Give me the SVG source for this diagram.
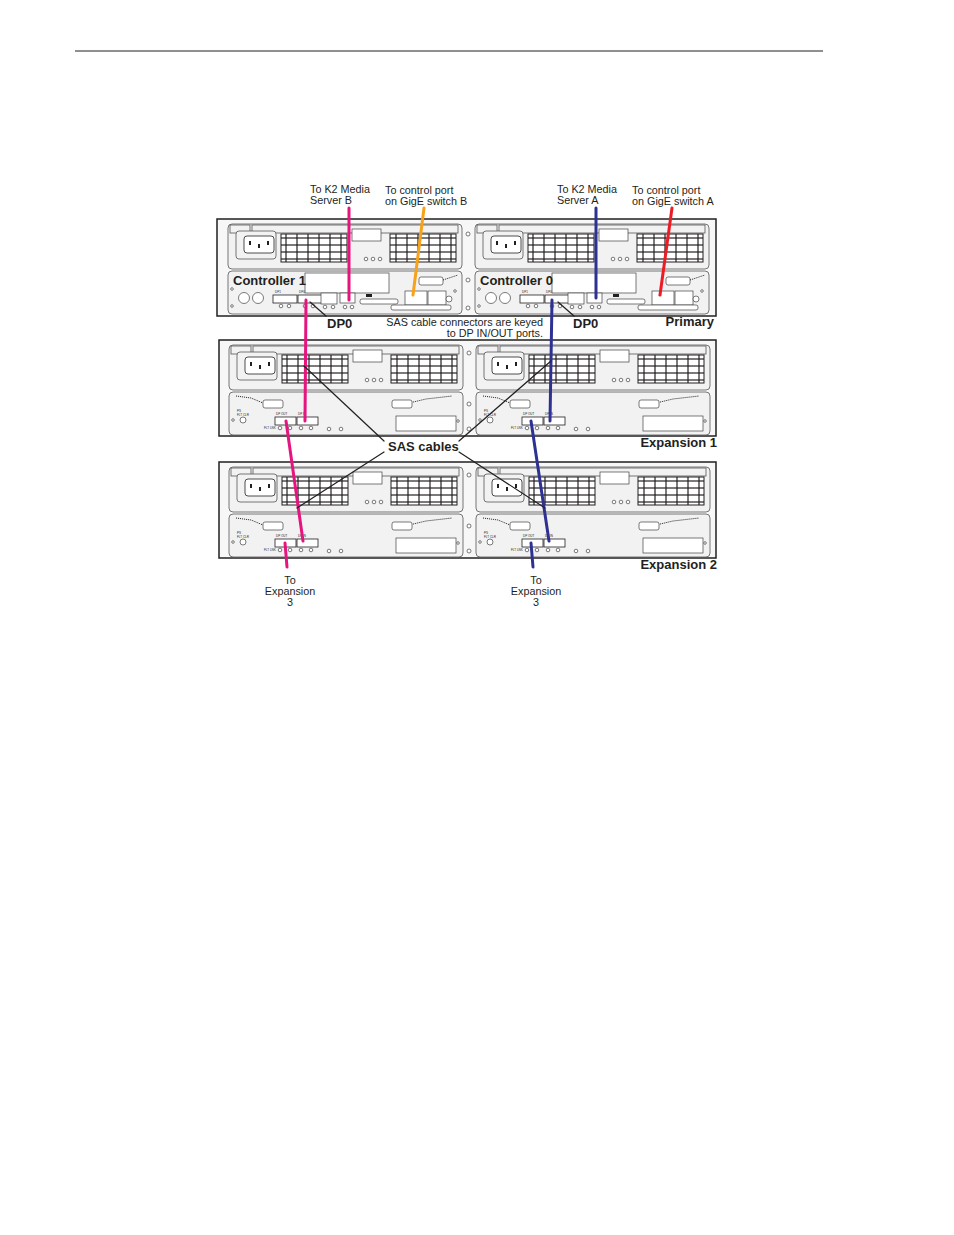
<svg xmlns="http://www.w3.org/2000/svg" xmlns:xlink="http://www.w3.org/1999/xlink" width="954" height="1235" viewBox="0 0 954 1235">
<style>
.t{font-family:"Liberation Sans",Arial,sans-serif;font-size:10.8px;fill:#231f20}
.b{font-family:"Liberation Sans",Arial,sans-serif;font-size:13px;font-weight:bold;fill:#231f20}
.tiny{font-family:"Liberation Sans",Arial,sans-serif;font-size:3px;fill:#231f20}
.m{fill:#f2f2f2;stroke:#555;stroke-width:0.8}
.k{fill:none;stroke:#231f20;stroke-width:1}
.g{fill:#fff;stroke:#231f20;stroke-width:0.8}
.c{fill:#fff;stroke:#444;stroke-width:0.7}
.ld{stroke:#231f20;stroke-width:1.2;fill:none}
</style>
<defs>
<pattern id="grid" width="11" height="7" patternUnits="userSpaceOnUse"><rect width="11" height="7" fill="#fff" stroke="#231f20" stroke-width="1.2"/></pattern>
<g id="psu">
<rect x="228" y="224" width="234" height="45" rx="4" class="m"/>
<rect x="230" y="225" width="20" height="8" class="m"/>
<rect x="252" y="225" width="206" height="8" class="m"/>
<rect x="236" y="231" width="40" height="28" rx="3" class="m"/>
<rect x="244" y="236" width="30" height="17" rx="3" class="g"/>
<rect x="249" y="241" width="2" height="4" fill="#231f20"/><rect x="258" y="244" width="2" height="4" fill="#231f20"/><rect x="267" y="241" width="2" height="4" fill="#231f20"/>
<rect x="281" y="234" width="66" height="28" fill="url(#grid)" stroke="#231f20"/>
<rect x="390" y="234" width="66" height="28" fill="url(#grid)" stroke="#231f20"/>
<rect x="352" y="229" width="29" height="12" class="c"/>
<circle cx="366" cy="259" r="1.8" class="c"/><circle cx="373" cy="259" r="1.8" class="c"/><circle cx="380" cy="259" r="1.8" class="c"/>
</g>
<g id="ctrl">
<rect x="228" y="271" width="234" height="43" rx="4" class="m"/>
<rect x="305" y="273" width="84" height="20" class="c"/>
<circle cx="244" cy="298" r="5.5" class="c"/><circle cx="258" cy="298" r="5.5" class="c"/>
<rect x="273" y="295" width="24" height="8" class="g" stroke-width="1.5"/>
<rect x="298" y="295" width="24" height="8" class="g" stroke-width="1.5"/>
<text class="tiny" x="275" y="293">DP1</text><text class="tiny" x="299" y="293">DP0</text>
<circle cx="281" cy="306" r="1.8" class="c"/><circle cx="289" cy="306" r="1.8" class="c"/><circle cx="305" cy="306" r="1.8" class="c"/><circle cx="313" cy="306" r="1.8" class="c"/>
<rect x="321" y="293" width="16" height="11" class="c"/>
<rect x="340" y="293" width="15" height="10" class="c"/>
<circle cx="325" cy="307" r="1.8" class="c"/><circle cx="333" cy="307" r="1.8" class="c"/><circle cx="345" cy="307" r="1.8" class="c"/><circle cx="352" cy="307" r="1.8" class="c"/>
<rect x="366" y="294" width="6" height="3" fill="#231f20"/>
<rect x="360" y="299" width="38" height="5" rx="2" class="c"/>
<rect x="405" y="291" width="22" height="14" class="c"/><rect x="428" y="291" width="18" height="14" class="c"/>
<rect x="419" y="277" width="24" height="8" rx="2" class="c"/>
<path d="M443 280 L458 275" class="k" stroke-dasharray="1 1"/>
<circle cx="449" cy="299" r="3" class="c"/>
<rect x="391" y="305" width="60" height="5" rx="2" class="c"/>
<circle cx="232" cy="289" r="1.3" class="c"/><circle cx="232" cy="306" r="1.3" class="c"/><circle cx="455" cy="291" r="1.3" class="c"/>
</g>
<g id="exp">
<rect x="228" y="271" width="234" height="43" rx="4" class="m"/>
<path d="M235 275 L250 277 L262 282" class="k" stroke-dasharray="1 1"/>
<rect x="262" y="279" width="20" height="8" rx="2" class="c"/>
<path d="M408 282 L425 278 L451 275" class="k" stroke-dasharray="1 1"/>
<rect x="391" y="279" width="20" height="8" rx="2" class="c"/>
<text class="tiny" x="236" y="291">PS</text><text class="tiny" x="236" y="295">FLT CLR</text>
<circle cx="242" cy="299" r="3" class="c"/><circle cx="232" cy="299" r="1.3" class="c"/>
<rect x="274" y="296" width="21" height="8" class="g" stroke-width="1.5"/>
<rect x="296" y="296" width="21" height="8" class="g" stroke-width="1.5"/>
<text class="tiny" x="275" y="294">DP OUT</text><text class="tiny" x="297" y="294">DP IN</text>
<text class="tiny" x="263" y="308">FLT LNK</text>
<circle cx="279" cy="307" r="1.8" class="c"/><circle cx="289" cy="307" r="1.8" class="c"/><circle cx="300" cy="307" r="1.8" class="c"/><circle cx="310" cy="307" r="1.8" class="c"/>
<circle cx="328" cy="308" r="1.8" class="c"/><circle cx="340" cy="308" r="1.8" class="c"/>
<rect x="395" y="295" width="60" height="15" class="c"/>
<circle cx="457" cy="300" r="1.3" class="c"/>
</g>
</defs>
<line x1="75" y1="51" x2="823" y2="51" stroke="#231f20" stroke-width="1"/>

<g id="primary">
<rect x="217" y="219" width="499" height="97" fill="#f7f7f7" stroke="#231f20" stroke-width="1.5"/>
<use href="#psu"/><use href="#ctrl"/>
<use href="#psu" transform="translate(247,0)"/><use href="#ctrl" transform="translate(247,0)"/>
<circle cx="468" cy="234" r="2" class="c"/><circle cx="468" cy="280" r="2" class="c"/><circle cx="468" cy="308" r="2" class="c"/>
<text class="b" x="233" y="285">Controller 1</text>
<text class="b" x="480" y="285">Controller 0</text>
<text class="b" x="714" y="326" text-anchor="end">Primary</text>
</g>
<g id="expansion1" transform="translate(1,121)">
<rect x="218" y="219" width="497" height="96" fill="#f7f7f7" stroke="#231f20" stroke-width="1.5"/>
<use href="#psu"/><use href="#exp"/>
<use href="#psu" transform="translate(247,0)"/><use href="#exp" transform="translate(247,0)"/>
<circle cx="468" cy="232" r="2" class="c"/><circle cx="468" cy="283" r="2" class="c"/><circle cx="468" cy="308" r="2" class="c"/>
</g>
<text class="b" x="717" y="447" text-anchor="end">Expansion 1</text>
<g id="expansion2" transform="translate(1,243)">
<rect x="218" y="219" width="497" height="96" fill="#f7f7f7" stroke="#231f20" stroke-width="1.5"/>
<use href="#psu"/><use href="#exp"/>
<use href="#psu" transform="translate(247,0)"/><use href="#exp" transform="translate(247,0)"/>
<circle cx="468" cy="232" r="2" class="c"/><circle cx="468" cy="283" r="2" class="c"/><circle cx="468" cy="308" r="2" class="c"/>
</g>
<text class="b" x="717" y="569" text-anchor="end">Expansion 2</text>

<g id="connectors" stroke-width="3" stroke-linecap="round" fill="none">
<line x1="349" y1="208" x2="349" y2="300" stroke="#e5147f"/>
<line x1="306" y1="300" x2="305" y2="421" stroke="#e5147f"/>
<line x1="286" y1="421" x2="303" y2="541" stroke="#e5147f"/>
<line x1="285" y1="543" x2="287" y2="567" stroke="#e5147f"/>
<line x1="596" y1="208" x2="596" y2="298" stroke="#2e3192"/>
<line x1="552" y1="300" x2="550" y2="421" stroke="#2e3192"/>
<line x1="531" y1="421" x2="549" y2="541" stroke="#2e3192"/>
<line x1="531" y1="543" x2="533" y2="567" stroke="#2e3192"/>
<line x1="424" y1="208" x2="413" y2="295" stroke="#f7a21b"/>
<line x1="672" y1="208" x2="660" y2="295" stroke="#ed1c24"/>
<path class="ld" d="M310 302 L326 316 M558 302 L574 316 M384 441 L304 366 M384 452 L297 508 M459 441 L551 361 M459 452 L545 508"/>
</g>

<g id="labels">
<text class="t" x="310" y="193">To K2 Media</text><text class="t" x="310" y="204">Server B</text>
<text class="t" x="385" y="194">To control port</text><text class="t" x="385" y="205">on GigE switch B</text>
<text class="t" x="557" y="193">To K2 Media</text><text class="t" x="557" y="204">Server A</text>
<text class="t" x="632" y="194">To control port</text><text class="t" x="632" y="205">on GigE switch A</text>
<text class="b" x="327" y="328">DP0</text>
<text class="b" x="573" y="328">DP0</text>
<text class="t" x="543" y="326" text-anchor="end">SAS cable connectors are keyed</text>
<text class="t" x="543" y="337" text-anchor="end">to DP IN/OUT ports.</text>
<text class="b" x="388" y="451">SAS cables</text>
<text class="t" x="290" y="584" text-anchor="middle">To</text><text class="t" x="290" y="595" text-anchor="middle">Expansion</text><text class="t" x="290" y="606" text-anchor="middle">3</text>
<text class="t" x="536" y="584" text-anchor="middle">To</text><text class="t" x="536" y="595" text-anchor="middle">Expansion</text><text class="t" x="536" y="606" text-anchor="middle">3</text>
</g>
</svg>
